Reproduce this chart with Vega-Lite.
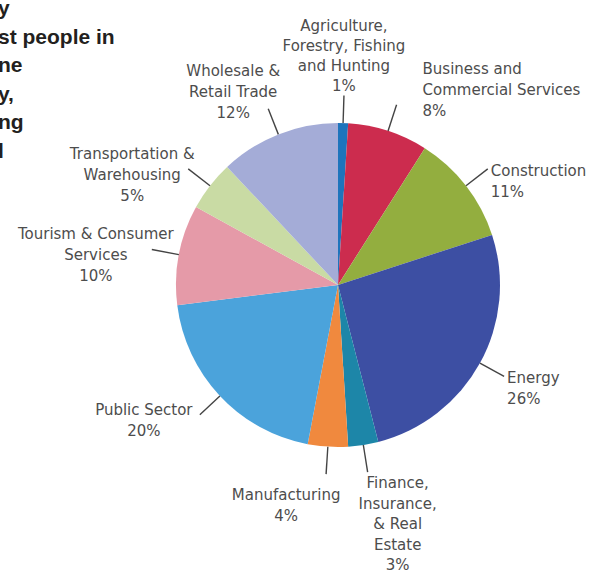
{
  "$schema": "https://vega.github.io/schema/vega-lite/v6.json",
  "width": 324,
  "height": 324,
  "autosize": {"type": "none"},
  "padding": {"left": 176, "top": 123, "right": 94, "bottom": 130},
  "background": "white",
  "config": {"view": {"stroke": null}, "text": {"font": "DejaVu Sans"}},
  "title": {
    "text": ["y", "st people in", "ne", "y,", "ng", "l"],
    "anchor": "start",
    "frame": "group",
    "orient": "none",
    "font": "Liberation Sans",
    "fontSize": 21,
    "fontWeight": "bold",
    "color": "#231F20",
    "lineHeight": 28.5,
    "baseline": "alphabetic",
    "dx": -178,
    "dy": -108
  },
  "data": {
    "values": [
      {"sector": "Agriculture,\nForestry, Fishing\nand Hunting", "share": 1},
      {"sector": "Business and\nCommercial Services", "share": 8},
      {"sector": "Construction", "share": 11},
      {"sector": "Energy", "share": 26},
      {"sector": "Finance,\nInsurance,\n& Real\nEstate", "share": 3},
      {"sector": "Manufacturing", "share": 4},
      {"sector": "Public Sector", "share": 20},
      {"sector": "Tourism & Consumer\nServices", "share": 10},
      {"sector": "Transportation &\nWarehousing", "share": 5},
      {"sector": "Wholesale &\nRetail Trade", "share": 12}
    ]
  },
  "transform": [
    {"window": [{"op": "row_number", "as": "order"}]},
    {"window": [{"op": "sum", "field": "share", "as": "cum"}], "sort": [{"field": "order"}], "frame": [null, 0]},
    {"joinaggregate": [{"op": "sum", "field": "share", "as": "total"}]},
    {"calculate": "(datum.cum - datum.share / 2) / datum.total * 2 * PI", "as": "mid"},
    {"calculate": "datum.mid * 180 / PI", "as": "deg"},
    {"calculate": "sin(datum.mid)", "as": "ux"},
    {"calculate": "cos(datum.mid)", "as": "uy"},
    {"calculate": "1.17 * datum.ux", "as": "lx"},
    {"calculate": "1.17 * datum.uy", "as": "ly"},
    {"calculate": "datum.sector + '\\n' + datum.share + '%'", "as": "label"},
    {"calculate": "length(split(datum.label, '\\n'))", "as": "nlines"}
  ],
  "layer": [
    {
      "mark": {"type": "arc"},
      "encoding": {
        "theta": {"field": "share", "type": "quantitative", "stack": true},
        "order": {"field": "order", "type": "quantitative"},
        "color": {
          "field": "sector",
          "type": "nominal",
          "legend": null,
          "scale": {
            "domain": [
              "Agriculture,\nForestry, Fishing\nand Hunting",
              "Business and\nCommercial Services",
              "Construction",
              "Energy",
              "Finance,\nInsurance,\n& Real\nEstate",
              "Manufacturing",
              "Public Sector",
              "Tourism & Consumer\nServices",
              "Transportation &\nWarehousing",
              "Wholesale &\nRetail Trade"
            ],
            "range": ["#1E74BC", "#CC2C4E", "#93AE3F", "#3D4FA3", "#1D86A8", "#F0893E", "#4BA3DB", "#E59AA8", "#C9DBA4", "#A4ACD7"]
          }
        }
      }
    },
    {
      "mark": {"type": "rule", "color": "#444444", "strokeWidth": 1.4},
      "encoding": {
        "x": {"field": "ux", "type": "quantitative", "scale": {"domain": [-1, 1], "nice": false, "zero": false}, "axis": null},
        "y": {"field": "uy", "type": "quantitative", "scale": {"domain": [-1, 1], "nice": false, "zero": false}, "axis": null},
        "x2": {"field": "lx"},
        "y2": {"field": "ly"}
      }
    },
    {
      "transform": [
        {"filter": "datum.deg < 10 || datum.deg >= 350"},
        {"calculate": "datum.ly + (datum.nlines - 1) * 20 / 162", "as": "ty"}
      ],
      "mark": {"type": "text", "align": "center", "baseline": "bottom", "dy": -2, "lineBreak": "\n", "fontSize": 15, "lineHeight": 20, "color": "#4d4d4d"},
      "encoding": {
        "x": {"field": "lx", "type": "quantitative"},
        "y": {"field": "ty", "type": "quantitative"},
        "text": {"field": "label", "type": "nominal"}
      }
    },
    {
      "transform": [
        {"filter": "datum.deg >= 10 && datum.deg < 40"},
        {"calculate": "datum.ly + (datum.nlines - 1) * 21 / 162", "as": "ty"}
      ],
      "mark": {"type": "text", "align": "left", "baseline": "bottom", "dx": 26, "dy": 14, "lineBreak": "\n", "fontSize": 15, "lineHeight": 21, "color": "#4d4d4d"},
      "encoding": {
        "x": {"field": "lx", "type": "quantitative"},
        "y": {"field": "ty", "type": "quantitative"},
        "text": {"field": "label", "type": "nominal"}
      }
    },
    {
      "transform": [{"filter": "datum.deg >= 40 && datum.deg < 160"}],
      "mark": {"type": "text", "align": "left", "baseline": "middle", "dx": 3, "dy": 2, "lineBreak": "\n", "fontSize": 15, "lineHeight": 21, "color": "#4d4d4d"},
      "encoding": {
        "x": {"field": "lx", "type": "quantitative"},
        "y": {"field": "ly", "type": "quantitative"},
        "text": {"field": "label", "type": "nominal"}
      }
    },
    {
      "transform": [{"filter": "datum.deg >= 160 && datum.deg < 180"}],
      "mark": {"type": "text", "align": "center", "baseline": "top", "dx": 30, "dy": 4, "lineBreak": "\n", "fontSize": 15, "lineHeight": 20.5, "color": "#4d4d4d"},
      "encoding": {
        "x": {"field": "lx", "type": "quantitative"},
        "y": {"field": "ly", "type": "quantitative"},
        "text": {"field": "label", "type": "nominal"}
      }
    },
    {
      "transform": [{"filter": "datum.deg >= 180 && datum.deg < 200"}],
      "mark": {"type": "text", "align": "center", "baseline": "top", "dx": -40, "dy": 14, "lineBreak": "\n", "fontSize": 15, "lineHeight": 21, "color": "#4d4d4d"},
      "encoding": {
        "x": {"field": "lx", "type": "quantitative"},
        "y": {"field": "ly", "type": "quantitative"},
        "text": {"field": "label", "type": "nominal"}
      }
    },
    {
      "transform": [
        {"filter": "datum.deg >= 200 && datum.deg < 320"},
        {"calculate": "datum.ly + (datum.nlines - 1) * 10.5 / 162", "as": "ty"}
      ],
      "mark": {"type": "text", "align": "center", "baseline": "middle", "dx": -56, "dy": 6, "lineBreak": "\n", "fontSize": 15, "lineHeight": 21, "color": "#4d4d4d"},
      "encoding": {
        "x": {"field": "lx", "type": "quantitative"},
        "y": {"field": "ty", "type": "quantitative"},
        "text": {"field": "label", "type": "nominal"}
      }
    },
    {
      "transform": [
        {"filter": "datum.deg >= 320 && datum.deg < 350"},
        {"calculate": "datum.ly + (datum.nlines - 1) * 21 / 162", "as": "ty"}
      ],
      "mark": {"type": "text", "align": "center", "baseline": "bottom", "dx": -35, "dy": 12, "lineBreak": "\n", "fontSize": 15, "lineHeight": 21, "color": "#4d4d4d"},
      "encoding": {
        "x": {"field": "lx", "type": "quantitative"},
        "y": {"field": "ty", "type": "quantitative"},
        "text": {"field": "label", "type": "nominal"}
      }
    }
  ]
}
